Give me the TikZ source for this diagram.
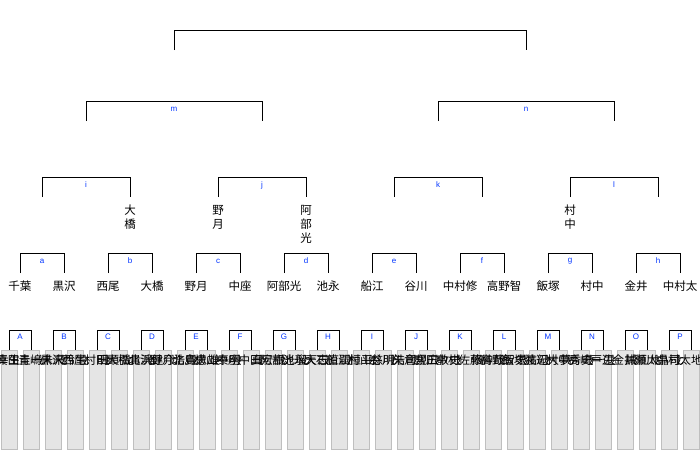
\documentclass[tikz,border=0pt]{standalone}
\usepackage{fontspec}
\newfontfamily\jp{Noto Sans CJK JP}
\setsansfont{Liberation Sans}
\usetikzlibrary{calc}

% stack the characters of a name one below the other
\def\vt#1{\vtx#1\relax}
\def\vtx#1{#1\vty}
\def\vty#1{\ifx#1\relax\else\\#1\expandafter\vty\fi}

\tikzset{
    bracket/.style={draw=black, line width=0.9pt},
    tag/.style={font=\sffamily\fontsize{8}{9}\selectfont, text=blue!80!cyan, inner sep=0pt},
    plname/.style={font=\jp\fontsize{11.5}{13.8}\selectfont, align=center, inner sep=0pt, anchor=north},
    leafbox/.style={draw=black!25, fill=black!10, line width=0.6pt}
}

\begin{document}
\begin{tikzpicture}[x=1pt,y=-1pt]
        \useasboundingbox (0,0) rectangle (700,450);

        %Players
        \foreach \pl [count=\k from 0] in {千葉幸生七段,真田圭一八段,青嶋未来六段,黒沢怜生六段,西尾　明七段,村田顕弘六段,大橋貴洸六段,北浜健介八段,野月浩貴八段,北島忠雄七段,横山泰明七段,中座　真七段,中田宏樹八段,阿部光瑠六段,池永天志五段,大石直嗣七段,船江恒平六段,村山慈明七段,谷川浩司九段,矢倉規広七段,宮田敦史七段,中村　修九段,佐藤紳哉七段,高野智史六段,飯塚祐紀七段,渡辺大夢六段,村中秀史七段,高崎一生七段,戸辺　誠七段,金井恒太六段,瀬川晶司六段,中村太地七段}{
            \pgfmathsetmacro{\x}{9+22*\k}
            \draw[leafbox] (\x-8,350) rectangle (\x+8,449.5);
            \node[plname] (pl\k) at (\x,355) {\vt{\pl}};
        }

        %Round one
        \foreach \lab [count=\p from 0] in {A,B,C,D,E,F,G,H,I,J,K,L,M,N,O,P}{
            \pgfmathsetmacro{\xa}{9+44*\p}
            \pgfmathsetmacro{\xb}{31+44*\p}
            \draw[bracket] (\xa,350) -- (\xa,330) -- (\xb,330) -- (\xb,350);
            \node[tag] (r1\p) at ({(\xa+\xb)/2},336.5) {\lab};
        }

        %Round two
        \foreach \lab/\wa/\wb [count=\q from 0] in {a/千葉/黒沢,b/西尾/大橋,c/野月/中座,d/阿部光/池永,e/船江/谷川,f/中村修/高野智,g/飯塚/村中,h/金井/中村太}{
            \pgfmathsetmacro{\xa}{20+88*\q}
            \pgfmathsetmacro{\xb}{64+88*\q}
            \draw[bracket] (\xa,273) -- (\xa,253) -- (\xb,253) -- (\xb,273);
            \node[tag] (r2\q) at ({(\xa+\xb)/2},261) {\lab};
            \node[plname] (w2a\q) at (\xa,281) {\vt{\wa}};
            \node[plname] (w2b\q) at (\xb,281) {\vt{\wb}};
        }

        %Round three
        \foreach \lab [count=\r from 0] in {i,j,k,l}{
            \pgfmathsetmacro{\xa}{42+176*\r}
            \pgfmathsetmacro{\xb}{130+176*\r}
            \draw[bracket] (\xa,197) -- (\xa,177) -- (\xb,177) -- (\xb,197);
            \node[tag] (r3\r) at ({(\xa+\xb)/2},185) {\lab};
        }
        \node[plname] (w3b0) at (130,205) {\vt{大橋}};
        \node[plname] (w3a1) at (218,205) {\vt{野月}};
        \node[plname] (w3b1) at (306,205) {\vt{阿部光}};
        \node[plname] (w3a3) at (570,205) {\vt{村中}};

        %Semi final and final
        \foreach \lab [count=\s from 0] in {m,n}{
            \pgfmathsetmacro{\xa}{86+352*\s}
            \pgfmathsetmacro{\xb}{262+352*\s}
            \draw[bracket] (\xa,121) -- (\xa,101) -- (\xb,101) -- (\xb,121);
            \node[tag] (r4\s) at ({(\xa+\xb)/2},109) {\lab};
        }
        \draw[bracket] (174,50) -- (174,30) -- (526,30) -- (526,50);

    \end{tikzpicture}
\end{document}
